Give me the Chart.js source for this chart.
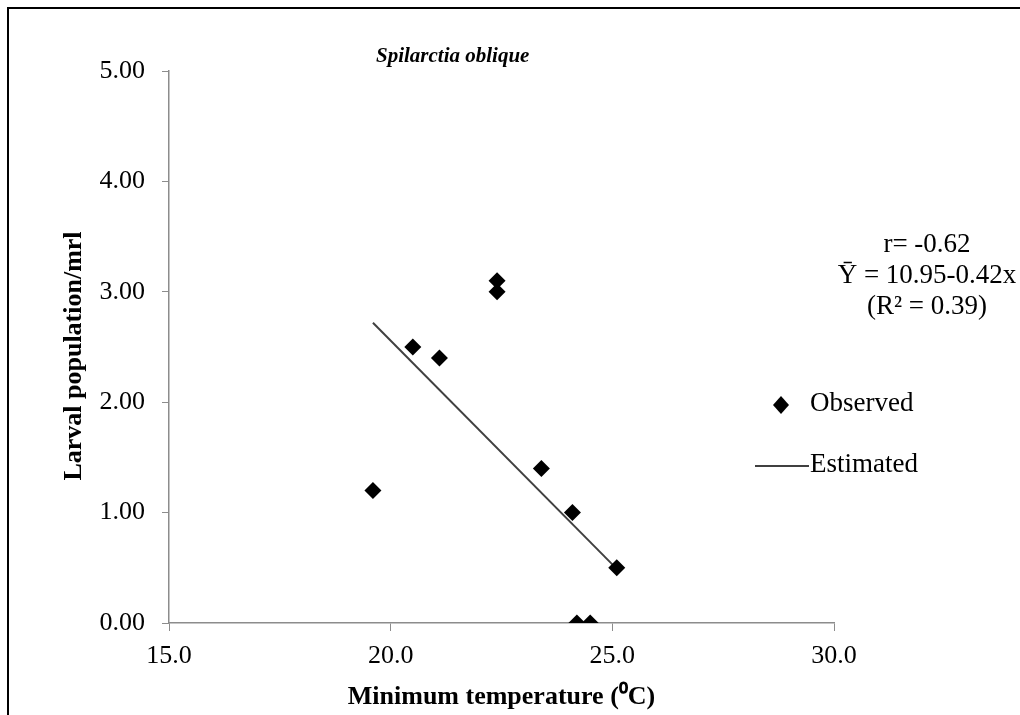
<!DOCTYPE html>
<html>
<head>
<meta charset="utf-8">
<script src="https://cdn.jsdelivr.net/npm/chart.js@4.4.1/dist/chart.umd.min.js"></script>
<style>
  html, body { margin: 0; padding: 0; background: #fff; }
  #wrap { position: relative; width: 1020px; height: 715px; }
</style>
</head>
<body>
<div id="wrap"><canvas id="scatterChart" width="1020" height="715"></canvas></div>
<script>
// Minimum temperature (x) vs larval population (y)
var tempObserved = [19.6, 20.5, 21.1, 22.4, 22.4, 23.4, 24.1, 24.2, 24.5, 25.1];
var larvaObserved = [1.2, 2.5, 2.4, 3.1, 3.0, 1.4, 1.0, 0.0, 0.0, 0.5];

// regression line ends
var tempEstimated = [19.6, 25.1];
var larvaEstimated = [2.72, 0.49];

var xTicks = [15.0, 20.0, 25.0, 30.0];
var yTicks = [0, 1, 2, 3, 4, 5];

var statLines = ['r= -0.62', '\u0232 = 10.95-0.42x', '(R\u00B2 = 0.39)'];

var serif = '"Liberation Serif", "Times New Roman", serif';

function toPoints(xs, ys) {
    return xs.map(function(x, i) { return { x: x, y: ys[i] }; });
}

var overlayPlugin = {
    id: 'overlay',
    afterDraw: function(chart) {
        var ctx = chart.ctx;
        var area = chart.chartArea;
        ctx.save();

        // outer frame (left and top edges show in the picture)
        ctx.fillStyle = '#000';
        ctx.fillRect(7, 7, 2, 715);
        ctx.fillRect(7, 7, 1020, 2);

        ctx.fillStyle = '#000';
        ctx.textBaseline = 'middle';

        // species title
        ctx.font = 'italic bold 21px ' + serif;
        ctx.textAlign = 'left';
        ctx.fillText('Spilarctia oblique', 376, 57);

        // axis titles
        ctx.textAlign = 'center';
        ctx.font = 'bold 26px ' + serif;
        ctx.fillText('Minimum temperature (\u2070C)', (area.left + area.right) / 2, 697);
        ctx.save();
        ctx.translate(74, 356);
        ctx.rotate(-Math.PI / 2);
        ctx.fillText('Larval population/mrl', 0, 0);
        ctx.restore();

        // regression stats
        ctx.font = '27px ' + serif;
        var statY = [245, 276, 307];
        statLines.forEach(function(t, i) {
            ctx.fillText(t, 927, statY[i]);
        });

        // legend
        ctx.textAlign = 'left';
        ctx.beginPath();
        ctx.moveTo(781, 396);
        ctx.lineTo(789, 405);
        ctx.lineTo(781, 414);
        ctx.lineTo(773, 405);
        ctx.closePath();
        ctx.fill();
        ctx.fillText('Observed', 810, 404);

        ctx.strokeStyle = '#404040';
        ctx.lineWidth = 2;
        ctx.beginPath();
        ctx.moveTo(755, 466);
        ctx.lineTo(809, 466);
        ctx.stroke();
        ctx.fillText('Estimated', 810, 465);

        ctx.restore();
    }
};

var ctx = document.getElementById('scatterChart').getContext('2d');
var chart = new Chart(ctx, {
    type: 'scatter',
    data: {
        datasets: [
            {
                label: 'Observed',
                data: toPoints(tempObserved, larvaObserved),
                pointStyle: 'rectRot',
                pointRadius: 8.5,
                pointHoverRadius: 8.5,
                backgroundColor: '#000',
                borderColor: '#000',
                borderWidth: 0,
                order: 1
            },
            {
                label: 'Estimated',
                data: toPoints(tempEstimated, larvaEstimated),
                showLine: true,
                pointRadius: 0,
                borderColor: '#404040',
                borderWidth: 2,
                fill: false,
                order: 2
            }
        ]
    },
    options: {
        responsive: false,
        animation: false,
        layout: {
            padding: { left: 0, top: 71, right: 186, bottom: 0 }
        },
        plugins: {
            legend: { display: false },
            tooltip: { enabled: false },
            title: { display: false }
        },
        scales: {
            x: {
                type: 'linear',
                min: 15,
                max: 30,
                afterBuildTicks: function(scale) {
                    scale.ticks = xTicks.map(function(v) { return { value: v }; });
                },
                afterFit: function(scale) { scale.height = 92; },
                grid: {
                    display: true,
                    drawOnChartArea: false,
                    drawTicks: true,
                    tickLength: 8,
                    color: '#8c8c8c',
                    lineWidth: 1
                },
                border: { display: true, color: '#8c8c8c', width: 1.5 },
                ticks: {
                    color: '#000',
                    padding: 10,
                    maxRotation: 0,
                    font: { family: serif, size: 26 },
                    callback: function(v) { return Number(v).toFixed(1); }
                }
            },
            y: {
                type: 'linear',
                min: 0,
                max: 5,
                afterBuildTicks: function(scale) {
                    scale.ticks = yTicks.map(function(v) { return { value: v }; });
                },
                afterFit: function(scale) { scale.width = 169; },
                grid: {
                    display: true,
                    drawOnChartArea: false,
                    drawTicks: true,
                    tickLength: 7,
                    color: '#8c8c8c',
                    lineWidth: 1
                },
                border: { display: true, color: '#8c8c8c', width: 1.5 },
                ticks: {
                    color: '#000',
                    padding: 17,
                    font: { family: serif, size: 26 },
                    callback: function(v) { return Number(v).toFixed(2); }
                }
            }
        }
    },
    plugins: [overlayPlugin]
});
</script>
</body>
</html>
